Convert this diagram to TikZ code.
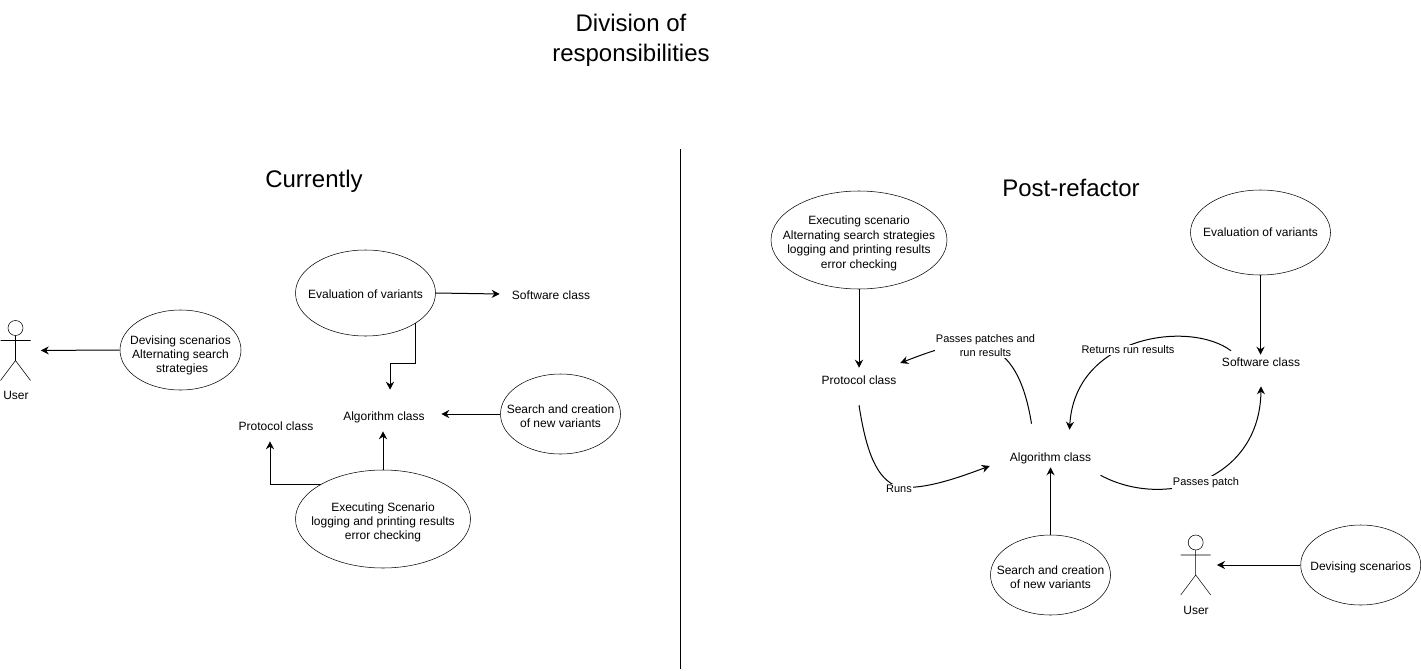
\documentclass[tikz,border=0pt]{standalone}
\usepackage{fontspec}
\setmainfont{Liberation Sans}
\usetikzlibrary{arrows.meta,shapes.geometric}
\tikzset{
	pics/stickman/.style={code={
		\draw (0,22.5) circle (7.5);
		\draw (0,15) -- (0,-10) (-15,10) -- (15,10) (-15,-30) -- (0,-10) -- (15,-30);
	}},
	role/.style={ellipse,draw,inner sep=-15pt,align=center,text depth=0pt,font=\fontsize{9}{10.5}\selectfont},
	cls/.style={inner sep=0pt,align=center,text depth=0pt,font=\fontsize{9}{10.5}\selectfont},
	title/.style={inner sep=0pt,align=center,text depth=0pt,font=\fontsize{18}{22.5}\selectfont},
	edgelbl/.style={fill=white,inner sep=1pt,align=center,font=\fontsize{8.25}{10.5}\selectfont},
	link/.style={-{Stealth[length=6pt,width=6pt]},line width=0.75pt},
	drop/.style={execute at begin node={\rule{0pt}{#1}}},
}
\begin{document}
\begin{tikzpicture}[x=0.75pt,y=0.75pt]
	\useasboundingbox (0,0) rectangle (1421,-671);
	\node (mainTitle) [title] at (631,-38) {Division of\\responsibilities};
	\node (leftTitle) [title] at (314,-179) {Currently};
	\node (rightTitle) [title] at (1071,-188) {Post-refactor};
	\coordinate (splitTop) at (680.5,-149);
	\coordinate (splitBot) at (680.5,-669);
	\draw [line width=0.75pt] (splitTop) -- (splitBot);

	\pic at (15.5,-350.5) {stickman};
	\node (userL) [minimum width=22.5pt,minimum height=45pt,inner sep=0pt] at (15.5,-350.5) {};
	\node (userLblL) [cls] at (16,-395) {User};
	\node (devL) [role,drop=33.5pt,minimum width=90.75pt,minimum height=60pt] at (180.5,-350) {Devising scenarios\\Alternating search\\\ strategies};
	\node (evL) [role,drop=8pt,minimum width=105pt,minimum height=64.5pt] at (365.5,-293) {Evaluation of variants};
	\node (srL) [role,drop=20pt,minimum width=90pt,minimum height=60pt] at (560.5,-414) {Search and creation\\of new variants};
	\node (exL) [role,drop=30.5pt,minimum width=131.25pt,minimum height=73.5pt] at (383,-519) {Executing Scenario\\logging and printing results\\error checking};
	\node (swL) [cls,drop=8pt,minimum width=76.5pt] at (551,-294) {Software class};
	\node (algL) [cls,minimum width=85.5pt,minimum height=39pt] at (384,-416) {Algorithm class};
	\node (protL) [cls,minimum height=22.5pt] at (276,-426) {Protocol class};
	\coordinate (bendL) at (390,-363);

	\draw [link,shorten >=7.5pt] (devL.west) -- (userL.east);
	\draw [link] (evL.east) -- (swL.west);
	\draw [link] (evL.-31) |- (bendL) -- (bendL |- algL.north);
	\draw [link] (srL.west) -- (algL.east |- srL.west);
	\draw [link] (exL.north) -- ([yshift=8.25pt]exL.north |- algL.south);
	\draw [link] (exL.151) -| ([xshift=-4.5pt]protL.south);

	\node (exR) [role,drop=42.5pt,minimum width=132pt,minimum height=73.5pt,font=\fontsize{9}{11}\selectfont] at (859,-240) {Executing scenario\\Alternating search strategies\\logging and printing results\\error checking};
	\node (evR) [role,minimum width=105pt,minimum height=63.75pt] at (1260.5,-232.5) {Evaluation of variants};
	\node (srR) [role,drop=20pt,minimum width=90pt,minimum height=60pt] at (1050.5,-575) {Search and creation\\of new variants};
	\node (devR) [role,drop=8pt,minimum width=90pt,minimum height=60pt] at (1360.7,-565) {Devising scenarios};
	\pic at (1195.7,-565) {stickman};
	\node (userR) [minimum width=22.5pt,minimum height=45pt,inner sep=0pt] at (1195.7,-565) {};
	\node (userLblR) [cls] at (1196,-610) {User};
	\node (protR) [cls,minimum width=61.5pt,minimum height=18pt] at (859,-380) {Protocol class};
	\node (algR) [cls,minimum width=90.75pt,minimum height=15pt] at (1050.5,-457) {Algorithm class};
	\node (swR) [cls,minimum height=10.5pt] at (1261,-362) {Software class};
	\coordinate (runsVia) at (899,-487);

	\draw [link] (exR.south -| protR.north) -- (protR.north);
	\draw [link] (evR.south) -- (swR.north -| evR.south);
	\draw [link] (srR.north) -- (algR.south);
	\draw [link,shorten >=4.5pt] (devR.west) -- (userR.east);
	\draw [link] ([yshift=-9.75pt]protR.south) .. controls (866,-450) and (876,-480) .. (runsVia) .. controls (925,-490) and (960,-477) .. ([yshift=-6.75pt]algR.west);
	\draw [link] ([xshift=-14.25pt,yshift=17.25pt]algR.north) .. controls (1015,-320) and (960,-340) .. ([yshift=12.75pt]protR.east);
	\draw [link] ([xshift=-22.5pt,yshift=3pt]swR.north) .. controls (1190,-320) and (1075,-335) .. ([xshift=14.25pt,yshift=12.75pt]algR.north);
	\draw [link] ([xshift=37.5pt,yshift=-6pt]algR.south) .. controls (1165,-510) and (1260,-480) .. ([yshift=-12.75pt]swR.south);
	\node (runsLbl) [edgelbl] at (899,-489) {Runs};
	\node (patchesLbl) [edgelbl] at (985.5,-346) {Passes patches and\\run results};
	\node (resultsLbl) [edgelbl] at (1128,-350) {Returns run results};
	\node (patchLbl) [edgelbl] at (1206,-482.5) {Passes patch};
\end{tikzpicture}
\end{document}
